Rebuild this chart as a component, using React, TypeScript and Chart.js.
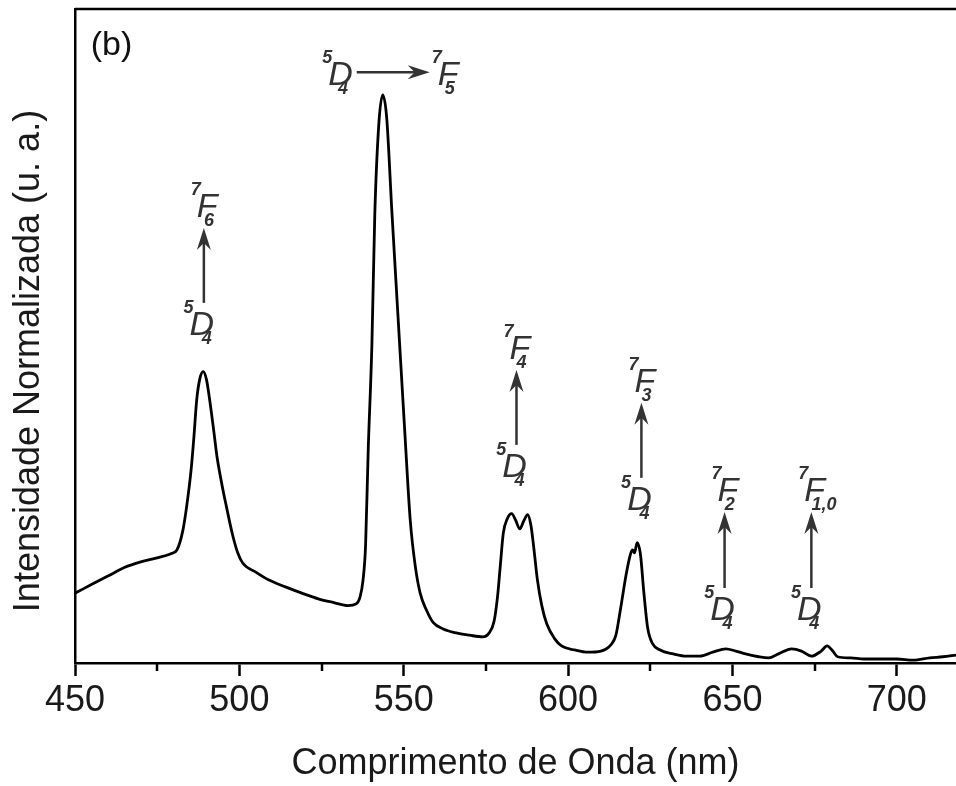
import React, { useEffect, useRef } from "react";
import { Chart, registerables } from "chart.js";

Chart.register(...registerables);

// ---- data ----
const WAVELENGTH_NM = [
  450, 455, 460, 465, 470, 475, 479, 481, 482.8, 484, 485.3, 486.2, 487, 488, 489, 490, 491, 492.2, 493.2, 494.7,
  496, 498, 499.5, 501, 505, 509, 514, 519, 524, 529, 533, 535.5, 536.7, 537.6, 538.4, 539.2, 540.3, 541.2, 542.4,
  543.6, 544.8, 546.4, 548.2, 550.3, 552, 553.5, 555, 557, 559, 562, 566, 570, 574, 576, 577.5, 578.5, 579.3, 580.3,
  581.5, 582.8, 584, 585.3, 586.5, 587.7, 588.7, 589.5, 590.7, 592, 593.5, 596, 598, 602, 606, 610, 613, 614.5, 616,
  617.7, 619, 619.6, 620.2, 621, 622, 623, 624.2, 625.7, 628, 632, 636, 640, 644, 648, 651, 654, 658, 661, 664, 668,
  671, 674, 677, 678.8, 680.5, 682, 686, 690, 695, 700, 705, 710, 714, 718,
];
const INTENSITY = [
  0.123, 0.138, 0.153, 0.168, 0.178, 0.185, 0.192, 0.199, 0.233, 0.277, 0.339, 0.4, 0.462, 0.501, 0.513, 0.499, 0.462,
  0.409, 0.363, 0.314, 0.277, 0.224, 0.194, 0.176, 0.16, 0.146, 0.134, 0.123, 0.113, 0.106, 0.101, 0.104, 0.116, 0.145,
  0.208, 0.376, 0.557, 0.79, 0.947, 1.0, 0.961, 0.794, 0.616, 0.409, 0.25, 0.171, 0.123, 0.092, 0.071, 0.06, 0.053,
  0.049, 0.046, 0.053, 0.074, 0.115, 0.166, 0.229, 0.254, 0.263, 0.252, 0.236, 0.25, 0.261, 0.242, 0.206, 0.145, 0.101,
  0.069, 0.042, 0.03, 0.023, 0.019, 0.021, 0.032, 0.048, 0.097, 0.157, 0.192, 0.199, 0.194, 0.212, 0.192, 0.127, 0.062,
  0.034, 0.023, 0.016, 0.012, 0.012, 0.019, 0.025, 0.021, 0.016, 0.011, 0.009, 0.016, 0.025, 0.021, 0.012, 0.021, 0.03,
  0.021, 0.011, 0.009, 0.007, 0.007, 0.007, 0.005, 0.009, 0.011, 0.014,
];

const X_MIN = 450;
const X_MAX = 718;
const Y_MIN = 0;
const Y_MAX = 1.1514;
const X_MAJOR_STEP = 50;
const X_MINOR_TICKS = [475, 525, 575, 625, 675];

const X_TITLE = "Comprimento de Onda (nm)";
const Y_TITLE = "Intensidade Normalizada (u. a.)";
const PANEL_LABEL = "(b)";
const PANEL_LABEL_AT = [454.8, 1.07];

// vertical transition arrows 5D4 -> 7FJ
const TRANSITION_NM = [489.2, 584.3, 622.3, 647.6, 674.0];
const ARROW_FROM = [0.634, 0.384, 0.326, 0.132, 0.132];
const ARROW_TO = [0.766, 0.516, 0.458, 0.266, 0.266];
const UPPER_J = ["6", "4", "3", "2", "1,0"];

// horizontal transition 5D4 -> 7F5 above the main peak
const MAIN_ARROW_NM = [535.7, 557.9];
const MAIN_ARROW_LEVEL = 1.04;
const MAIN_UPPER_J = "5";

const FONT = "'Liberation Sans', Arial, Helvetica, sans-serif";
const INK = "#333333";

function drawTerm(
  ctx: CanvasRenderingContext2D,
  sup: string,
  letter: string,
  sub: string,
  left: number,
  baseline: number,
  subFrac: number
) {
  ctx.fillStyle = INK;
  ctx.textBaseline = "alphabetic";
  ctx.font = `italic 34px ${FONT}`;
  const w = ctx.measureText(letter).width;
  ctx.textAlign = "left";
  ctx.fillText(letter, left, baseline);
  ctx.font = `italic bold 18px ${FONT}`;
  ctx.textAlign = "right";
  ctx.fillText(sup, left + 4, baseline - 22);
  ctx.textAlign = "left";
  ctx.fillText(sub, left + w * subFrac, baseline + 9);
  return w;
}

function letterWidth(ctx: CanvasRenderingContext2D, letter: string) {
  ctx.font = `italic 34px ${FONT}`;
  return ctx.measureText(letter).width;
}

function drawHead(ctx: CanvasRenderingContext2D, tx: number, ty: number, dx: number, dy: number) {
  // stealth arrowhead, tip at (tx,ty), pointing along (dx,dy)
  const len = 22;
  const half = 7;
  const notch = 15;
  const px = -dy;
  const py = dx;
  ctx.beginPath();
  ctx.moveTo(tx, ty);
  ctx.lineTo(tx - dx * len + px * half, ty - dy * len + py * half);
  ctx.lineTo(tx - dx * notch, ty - dy * notch);
  ctx.lineTo(tx - dx * len - px * half, ty - dy * len - py * half);
  ctx.closePath();
  ctx.fill();
}

const annotationPlugin = {
  id: "spectrumAnnotations",
  afterDraw(chart: any) {
    const { ctx, chartArea, scales } = chart;
    const xs = scales.x;
    const ys = scales.y;
    ctx.save();

    // top frame line
    ctx.strokeStyle = "#000";
    ctx.lineWidth = 2.5;
    ctx.beginPath();
    ctx.moveTo(chartArea.left, chartArea.top);
    ctx.lineTo(chartArea.right, chartArea.top);
    ctx.stroke();

    // minor ticks
    ctx.lineWidth = 2.5;
    for (const v of X_MINOR_TICKS) {
      const px = Math.round(xs.getPixelForValue(v));
      ctx.beginPath();
      ctx.moveTo(px, chartArea.bottom);
      ctx.lineTo(px, chartArea.bottom + 8);
      ctx.stroke();
    }

    // panel label
    ctx.fillStyle = "#111";
    ctx.font = `34px ${FONT}`;
    ctx.textAlign = "left";
    ctx.textBaseline = "alphabetic";
    ctx.fillText(PANEL_LABEL, xs.getPixelForValue(PANEL_LABEL_AT[0]), ys.getPixelForValue(PANEL_LABEL_AT[1]));

    ctx.strokeStyle = INK;
    ctx.fillStyle = INK;
    ctx.lineWidth = 2.5;

    // vertical transitions
    TRANSITION_NM.forEach((nm, i) => {
      const x = xs.getPixelForValue(nm);
      const yb = ys.getPixelForValue(ARROW_FROM[i]);
      const yt = ys.getPixelForValue(ARROW_TO[i]);
      ctx.beginPath();
      ctx.moveTo(x, yb);
      ctx.lineTo(x, yt + 14);
      ctx.stroke();
      drawHead(ctx, x, yt, 0, -1);
      // upper level 7F_J
      drawTerm(ctx, "7", "F", UPPER_J[i], x - 7, yt - 11, 0.34);
      // lower level 5D4
      const wD = letterWidth(ctx, "D");
      drawTerm(ctx, "5", "D", "4", x - wD / 2 - 2, yb + 32, 0.5);
    });

    // horizontal main transition
    const x1 = xs.getPixelForValue(MAIN_ARROW_NM[0]);
    const x2 = xs.getPixelForValue(MAIN_ARROW_NM[1]);
    const yh = ys.getPixelForValue(MAIN_ARROW_LEVEL);
    ctx.strokeStyle = INK;
    ctx.fillStyle = INK;
    ctx.beginPath();
    ctx.moveTo(x1, yh);
    ctx.lineTo(x2 - 14, yh);
    ctx.stroke();
    drawHead(ctx, x2, yh, 1, 0);
    const wD = letterWidth(ctx, "D");
    drawTerm(ctx, "5", "D", "4", x1 - 4 - wD, yh + 13, 0.4);
    drawTerm(ctx, "7", "F", MAIN_UPPER_J, x2 + 8, yh + 13, 0.34);

    ctx.restore();
  },
};

export default function App() {
  const canvasRef = useRef<HTMLCanvasElement>(null);

  useEffect(() => {
    const canvas = canvasRef.current;
    if (!canvas) return;
    const points = WAVELENGTH_NM.map((x, i) => ({ x, y: INTENSITY[i] }));
    const chart = new Chart(canvas, {
      type: "line",
      data: {
        datasets: [
          {
            data: points,
            borderColor: "#000",
            borderWidth: 2.8,
            pointRadius: 0,
            cubicInterpolationMode: "monotone",
            fill: false,
          },
        ],
      },
      options: {
        animation: false,
        responsive: false,
        devicePixelRatio: 1,
        layout: { padding: { top: 9, left: 0, right: 0, bottom: 0 } },
        plugins: {
          legend: { display: false },
          tooltip: { enabled: false },
        },
        scales: {
          x: {
            type: "linear",
            min: X_MIN,
            max: X_MAX,
            afterFit: (scale: any) => {
              scale.height = 123;
            },
            border: { display: true, color: "#000", width: 2.5 },
            grid: {
              display: true,
              drawOnChartArea: false,
              drawTicks: true,
              tickLength: 13,
              tickWidth: 2.5,
              tickColor: "#000",
            },
            ticks: {
              stepSize: X_MAJOR_STEP,
              includeBounds: false,
              autoSkip: false,
              maxRotation: 0,
              padding: 3,
              color: "#1a1a1a",
              font: { family: FONT, size: 36 },
            },
            title: {
              display: true,
              text: X_TITLE,
              color: "#1a1a1a",
              font: { family: FONT, size: 36 },
              padding: { top: 0, bottom: 0 },
            },
          },
          y: {
            type: "linear",
            min: Y_MIN,
            max: Y_MAX,
            afterFit: (scale: any) => {
              scale.width = 75;
            },
            border: { display: true, color: "#000", width: 2.5 },
            grid: { display: true, drawOnChartArea: false, drawTicks: false },
            ticks: { display: false },
            title: {
              display: true,
              text: Y_TITLE + "\u00A0\u00A0\u00A0\u00A0\u00A0",
              color: "#1a1a1a",
              font: { family: FONT, size: 36 },
              padding: { top: 7, bottom: 0 },
            },
          },
        },
      },
      plugins: [annotationPlugin],
    });
    return () => chart.destroy();
  }, []);

  return (
    <div style={{ position: "absolute", left: 0, top: 0, width: 956, height: 786, background: "#fff" }}>
      <canvas ref={canvasRef} width={956} height={786} style={{ display: "block", width: 956, height: 786 }} />
    </div>
  );
}
